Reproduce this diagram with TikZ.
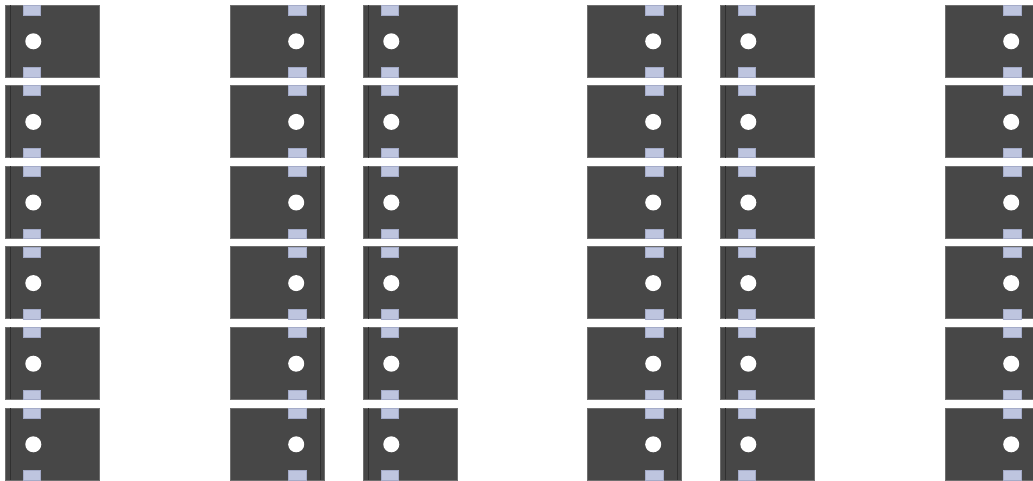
\documentclass[tikz,border=0pt]{standalone}
\usepackage{tikz}
\definecolor{body}{HTML}{474747}
\definecolor{edge}{HTML}{6E6E6E}
\definecolor{stripc}{HTML}{303030}
\definecolor{tabc}{HTML}{BEC5DF}
\definecolor{tabedge}{HTML}{A4ABC8}
\tikzset{
  modbody/.style={fill=body, draw=edge, line width=0.8pt},
  modstrip/.style={draw=stripc, line width=1pt},
  modtab/.style={fill=tabc, draw=tabedge, line width=0.4pt},
  modhole/.style={fill=white, draw=none}
}
\begin{document}
\begin{tikzpicture}[x=1pt,y=-1pt]
\useasboundingbox (0,0) rectangle (1033,480);
\fill[white] (0,0) rectangle (1033,480);
% columns: x position and facing (0 = strip left, 1 = strip right)
\foreach \cx/\f in {5/0,230/1,363/0,587/1,720/0,945/1}{
  \foreach \r in {0,...,5}{
    \pgfmathsetmacro{\ty}{5+80.6*\r}
    \pgfmathsetmacro{\by}{\ty+72}
    \pgfmathsetmacro{\rx}{\cx+94}
    \pgfmathsetmacro{\sx}{\f==0 ? \cx+5 : \rx-3.5}
    \pgfmathsetmacro{\tl}{\f==0 ? \cx+18 : \rx-35.5}
    \pgfmathsetmacro{\tr}{\tl+17.5}
    \pgfmathsetmacro{\hx}{\f==0 ? \cx+28.3 : \rx-27.8}
    \draw[modbody] (\cx,\ty) rectangle (\rx,\by);
    \draw[modstrip] (\sx,\ty) -- (\sx,\by);
    \draw[modtab] (\tl,\ty) rectangle (\tr,\ty+10);
    \draw[modtab] (\tl,\by-9.5) rectangle (\tr,\by);
    \fill[modhole] (\hx,\ty+36.3) circle [radius=8];
  }
}
\end{tikzpicture}
\end{document}
